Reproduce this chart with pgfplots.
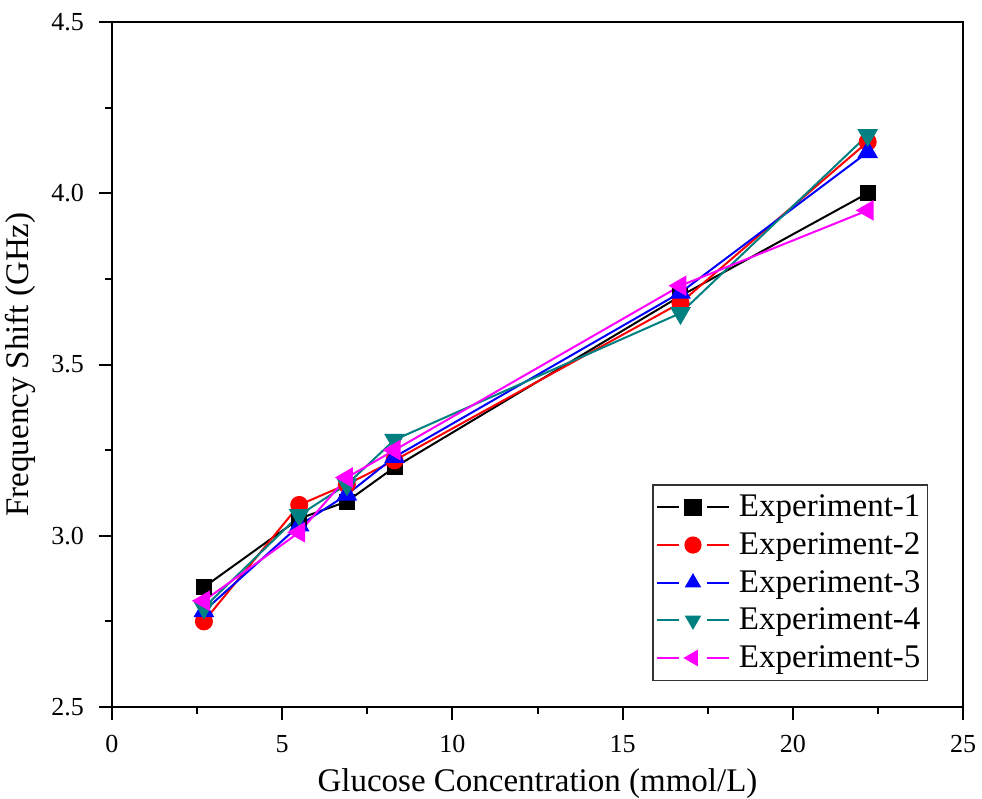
\documentclass[border=0pt]{standalone}
\usepackage{fontspec}
\setmainfont{Liberation Serif}
\usepackage{pgfplots}
\pgfplotsset{compat=1.18}
\usetikzlibrary{calc}

\definecolor{tealx}{RGB}{0,128,128}
\definecolor{magx}{RGB}{255,0,255}

% legend sample: line, gap, mark, gap, line
\pgfplotsset{
  expleg/.style={legend image code/.code={
    \draw[##1,mark=none] (0pt,0pt)--(11pt,0pt) (25pt,0pt)--(36pt,0pt);
    \draw[##1,mark size=3.8pt] plot coordinates {(18pt,0pt)};}},
}

\begin{document}
\begin{tikzpicture}
\begin{axis}[
  scale only axis,
  width=425.5pt, height=342.5pt,
  xmin=0, xmax=25, ymin=2.5, ymax=4.5,
  xtick={0,5,...,25}, ytick={2.5,3.0,...,4.5},
  minor x tick num=1, minor y tick num=1,
  tick align=outside,
  axis x line*=bottom, axis y line*=left,
  major tick length=6.5pt, minor tick length=3.5pt,
  every tick/.style={black, line width=1pt},
  axis line style={line width=1pt},
  /pgf/number format/assume math mode=true,
  ticklabel style={font=\fontsize{13}{15}\selectfont},
  xticklabel style={yshift=-4pt},
  yticklabel style={xshift=-4pt, /pgf/number format/.cd, fixed, fixed zerofill, precision=1},
  xlabel={Glucose Concentration (mmol/L)},
  ylabel={Frequency Shift (GHz)},
  label style={font=\fontsize{16.5}{19}\selectfont},
  xlabel style={yshift=-1pt},
  ylabel style={yshift=1pt},
  legend style={at={(1,0)}, anchor=south east, xshift=-17.5pt, yshift=13pt,
    draw=black!80, line width=0.6pt, font=\fontsize{16.5}{18}\selectfont,
    row sep=2.4pt, column sep=2.5pt, inner xsep=1.5pt, inner ysep=3pt},
  legend cell align=left,
  every axis plot/.append style={line width=1pt, expleg},
]
\addplot[black, mark=square*, mark size=3.5pt] coordinates {
  (2.7,2.85) (5.5,3.05) (6.9,3.10) (8.3,3.20) (16.7,3.70) (22.2,4.00)};
\addplot[red, mark=*, mark size=4pt] coordinates {
  (2.7,2.75) (5.5,3.09) (6.9,3.15) (8.3,3.22) (16.7,3.68) (22.2,4.15)};
\addplot[blue, mark=triangle*, mark size=5pt] coordinates {
  (2.7,2.78) (5.5,3.03) (6.9,3.12) (8.3,3.23) (16.7,3.71) (22.2,4.12)};
\addplot[tealx, mark=triangle*, mark size=5pt, mark options={rotate=180}] coordinates {
  (2.7,2.79) (5.5,3.06) (6.9,3.15) (8.3,3.28) (16.7,3.65) (22.2,4.17)};
\addplot[magx, mark=triangle*, mark size=5pt, mark options={rotate=90}] coordinates {
  (2.7,2.81) (5.5,3.01) (6.9,3.17) (8.3,3.25) (16.7,3.73) (22.2,3.95)};
\legend{Experiment-1,Experiment-2,Experiment-3,Experiment-4,Experiment-5}
\end{axis}
\draw[line width=1pt] (current axis.north west) -- (current axis.north east) -- (current axis.south east);
\pgfresetboundingbox
\path[use as bounding box] ($(current axis.south west)+(-56pt,-45.5pt)$) rectangle ($(current axis.north east)+(9.5pt,11pt)$);
\end{tikzpicture}
\end{document}
